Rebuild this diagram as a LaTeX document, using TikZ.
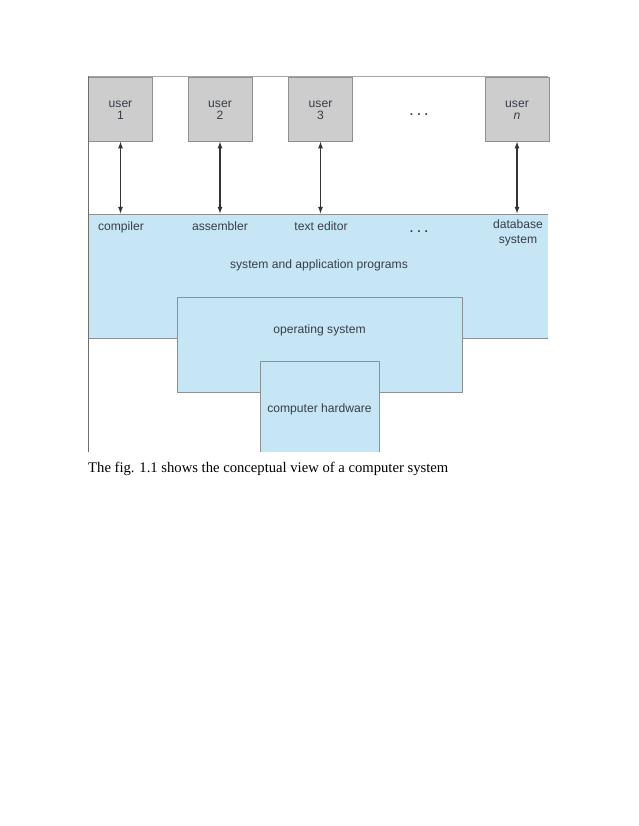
\documentclass[tikz,border=0pt]{standalone}
\usepackage{fontspec}
\setmainfont{Liberation Serif}
\setsansfont{Liberation Sans}
\usetikzlibrary{positioning, arrows.meta}
\tikzset{>=latex}
\definecolor{usergray}{RGB}{205,205,205}
\definecolor{boxblue}{RGB}{198,230,246}
\definecolor{edgegray}{RGB}{140,145,150}
\definecolor{framegray}{RGB}{110,110,110}
\definecolor{labelgray}{RGB}{55,62,72}
\tikzset{
  userbox/.style={draw=edgegray, fill=usergray, minimum width=54.4pt, minimum height=54.4pt, inner sep=0pt},
  lbl/.style={anchor=base, inner sep=0pt, align=center, text=labelgray,
    font=\sffamily\fontsize{10.3}{12.6}\selectfont},
  bluebox/.style={fill=boxblue, inner sep=0pt},
  link/.style={{Latex[length=6pt,width=4.2pt]}-{Latex[length=6pt,width=4.2pt]}, line width=1.1pt, draw=black!80}
}

\begin{document}
\begin{tikzpicture}[x=0.85pt, y=-0.85pt]
  \useasboundingbox (0,0) rectangle (638,826);

  % Users
  \foreach \x/\n/\t in {120.5/1/1, 220/2/2, 320.5/3/3, 517/n/\textit{n}}{
    \node[userbox] (user\n) at (\x,109) {};
    \node[lbl] (uname\n) at (\x,107.7) {user};
    \node[lbl] (unum\n) at (\x,120) {\t};
  }
  \node[lbl] (udots) at (419,116) {\textbf{.\,\,.\,\,.}};

  % Programs layer
  \node[bluebox, minimum width=391pt, minimum height=105.4pt, anchor=north west] (apps) at (88,214) {};
  \draw[edgegray] (apps.north west) -- (apps.north east);
  \draw[edgegray] (apps.south west) -- (apps.south east);
  \node[lbl] (compiler) at (121,230.5) {compiler};
  \node[lbl] (assembler) at (220,230.5) {assembler};
  \node[lbl] (editor) at (321,230.5) {text editor};
  \node[lbl] (pdots) at (419,232) {\textbf{.\,\,.\,\,.}};
  \node[lbl] (dbsys) at (518,243.3) {database\\system};
  \node[lbl] (appslabel) at (319,268.3) {system and application programs};

  % Operating system
  \node[bluebox, draw=edgegray, minimum width=242.25pt, minimum height=80.75pt] (os) at (319.5,344.5) {};
  \node[lbl] (oslabel) at (319.5,333.3) {operating system};

  % Hardware
  \node[bluebox, minimum width=101.15pt, minimum height=77.35pt, anchor=north] (hw) at (319.5,361) {};
  \draw[edgegray] (hw.south west) -- (hw.north west) -- (hw.north east) -- (hw.south east);
  \node[lbl] (hwlabel) at (319.5,412.3) {computer hardware};

  % Frame
  \draw[edgegray!80] (88,76.5) -- (548,76.5);
  \draw[framegray, line width=0.8pt] (88,76.5) -- (88,452);

  % Arrows
  \foreach \n in {1,2,3,n}
    \draw[link] (user\n.south) -- (user\n.south |- apps.north);

  % Caption
  \node[anchor=base west, inner sep=0pt, font=\fontsize{12.45}{14}\selectfont] (caption) at (88,472.7)
    {The fig. 1.1 shows the conceptual view of a computer system};
\end{tikzpicture}
\end{document}
